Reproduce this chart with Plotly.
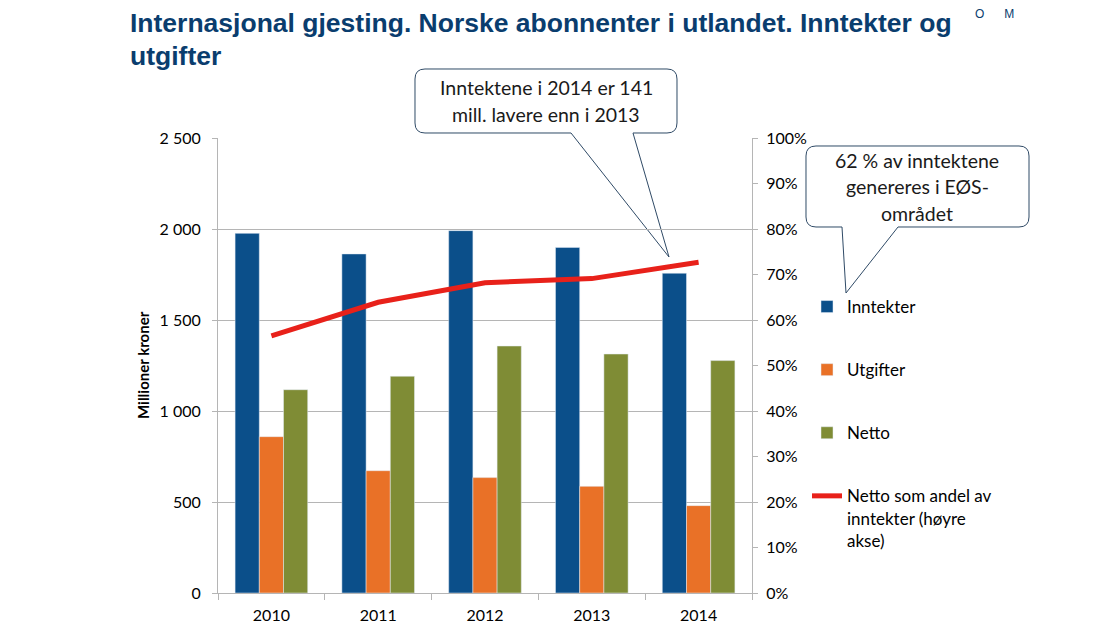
import plotly.graph_objects as go

# data (millioner kroner)
aar = ["2010", "2011", "2012", "2013", "2014"]
inntekter = [1976, 1863, 1991, 1899, 1757]
utgifter = [859, 672, 634, 586, 480]
netto = [1117, 1191, 1357, 1313, 1277]
andel = [0.565, 0.639, 0.682, 0.691, 0.727]  # netto / inntekter

BLAA = "#0b4f8a"
ORANSJE = "#e97127"
GROENN = "#7f8c35"
ROED = "#e8211a"
TITTEL = "#0a3d6e"
GRID = "#b5b5b5"

# siden har 8 px marg rundt figuren, koordinater under er i vinduets piksler
OFF = 8
FW, FH = 1112 - OFF, 626 - OFF
L, R, T, B = 218, 752, 138, 593
W, H = R - L, B - T


def px(x):
    return (x - L) / W


def py(y):
    return (B - y) / H


def boble(x0, y0, x1, y1, b0, b1, tx, ty, r=10):
    # avrundet boks med spiss paa underkanten
    pts = [
        ("M", x0 + r, y0), ("L", x1 - r, y0), ("Q", x1, y0, x1, y0 + r),
        ("L", x1, y1 - r), ("Q", x1, y1, x1 - r, y1), ("L", b1, y1),
        ("L", tx, ty), ("L", b0, y1), ("L", x0 + r, y1),
        ("Q", x0, y1, x0, y1 - r), ("L", x0, y0 + r), ("Q", x0, y0, x0 + r, y0),
    ]
    s = ""
    for p in pts:
        s += p[0] + " " + " ".join(
            f"{px(p[i]):.5f},{py(p[i + 1]):.5f}" for i in range(1, len(p), 2)) + " "
    return s + "Z"


def tekst(t, x, y, size, color="black", family=None, xanchor="center", angle=0):
    f = dict(size=size, color=color)
    if family:
        f["family"] = family
    fig.add_annotation(text=t, xref="paper", yref="paper", x=px(x), y=py(y),
                       xanchor=xanchor, yanchor="middle", showarrow=False,
                       textangle=angle, font=f)


fig = go.Figure()
fig.add_bar(x=aar, y=inntekter, name="Inntekter", marker_color=BLAA, legendgroup="a")
fig.add_bar(x=aar, y=utgifter, name="Utgifter", marker_color=ORANSJE, legendgroup="b")
fig.add_bar(x=aar, y=netto, name="Netto", marker_color=GROENN, legendgroup="c")
fig.add_scatter(x=aar, y=andel, yaxis="y2", mode="lines", legendgroup="d",
                name="Netto som andel av<br>inntekter (høyre<br>akse)",
                line=dict(color=ROED, width=5))

fig.update_layout(
    width=FW, height=FH,
    margin=dict(l=L - OFF, r=FW - (R - OFF), t=T - OFF, b=FH - (B - OFF)),
    paper_bgcolor="white", plot_bgcolor="white",
    font=dict(family="Lato, sans-serif", size=16, color="black"),
    separators=", ",
    barmode="group", bargap=0.32, bargroupgap=0,
    legend=dict(x=px(807), xanchor="left", y=py(289), yanchor="top",
                traceorder="grouped", tracegroupgap=38, valign="top",
                font=dict(size=17), bgcolor="rgba(0,0,0,0)"),
    showlegend=True,
)

fig.update_xaxes(showline=True, linecolor=GRID, ticks="outside", tickson="boundaries",
                 ticklen=6, tickcolor=GRID, tickfont=dict(size=16), ticklabelstandoff=8,
                 automargin=False)
fig.update_layout(
    yaxis=dict(range=[0, 2500], dtick=500, tickformat=",d", showgrid=True, gridcolor=GRID,
               showline=True, linecolor=GRID, ticks="outside", ticklen=5, tickcolor=GRID,
               zeroline=False, ticklabelstandoff=8, tickfont=dict(size=16), automargin=False),
    yaxis2=dict(range=[0, 1], dtick=0.1, tickformat=".0%", overlaying="y", side="right",
                showgrid=False, showline=True, linecolor=GRID, ticks="outside", ticklen=5,
                tickcolor=GRID, zeroline=False, ticklabelstandoff=5, tickfont=dict(size=16),
                automargin=False),
)

# tittel
tittel_font = "Liberation Sans, Arial, sans-serif"
tekst("<b>Internasjonal gjesting. Norske abonnenter i utlandet. Inntekter og</b>",
      128, 23, 26.5, TITTEL, tittel_font, xanchor="left")
tekst("<b>utgifter</b>", 128, 56, 26.5, TITTEL, tittel_font, xanchor="left")

# y-akse tittel
tekst("<b>Millioner kroner</b>", 143, 365, 15, angle=-90)

# snakkebobler
fig.add_shape(type="path", xref="paper", yref="paper", layer="below",
              path=boble(415, 69, 677, 133, 571, 633, 669, 257),
              line=dict(color="#2f4a66", width=1), fillcolor="white")
fig.add_shape(type="path", xref="paper", yref="paper", layer="below",
              path=boble(806, 146, 1029, 227, 842, 898, 846, 293),
              line=dict(color="#2f4a66", width=1), fillcolor="white")

bobletekst = [
    (546, [88, 115], ["Inntektene i 2014 er 141", "mill. lavere enn i 2013"]),
    (917, [160, 187, 213], ["62 % av inntektene", "genereres i EØS-", "området"]),
]
for cx, ys, linjer in bobletekst:
    for yy, t in zip(ys, linjer):
        tekst(t, cx, yy, 19.5, "#1a1a1a")

# logo-rest oeverst til hoeyre (i originalen delvis avskaaret)
tekst("O      M", 995, 14, 12, TITTEL, tittel_font)

fig.write_html("out.html")
